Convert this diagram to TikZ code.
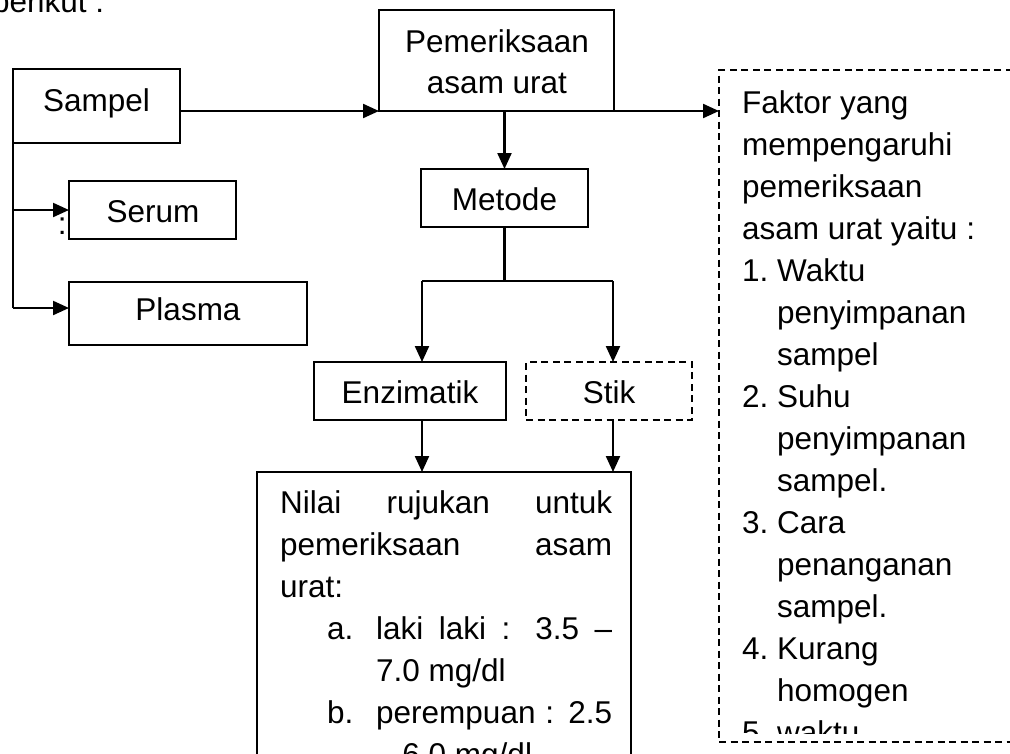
\documentclass[tikz,border=0pt]{standalone}
\usepackage{fontspec}
\setmainfont{Liberation Sans}
\usetikzlibrary{arrows.meta}
\begin{document}
\begin{tikzpicture}[x=1pt,y=-1pt,
  font=\fontsize{31.5}{42}\selectfont,
  box/.style={draw, line width=2.2pt, inner sep=0pt, outer sep=0pt},
  dbox/.style={draw, line width=1.6pt, dash pattern=on 7pt off 4.5pt, inner sep=0pt, outer sep=0pt},
  txt/.style={inner sep=0pt, anchor=base},
  txtw/.style={inner sep=0pt, anchor=base west},
  conn/.style={line width=2.2pt},
  arr/.style={line width=2.2pt, -{Triangle[length=16pt,width=14pt]}}]
\useasboundingbox (0,0) rectangle (1010,753);
\clip (0,0) rectangle (1010,753);

% top text (cut by page edge)
\node[txtw] (berikut) at (-8,12) {berikut :};

% boxes
\node[box, minimum width=167pt, minimum height=74pt] (sampel) at (96.5,106) {};
\node[box, minimum width=235pt, minimum height=101pt] (pem) at (496.5,60.5) {};
\node[box, minimum width=167pt, minimum height=58pt] (metode) at (504.5,198) {};
\node[box, minimum width=167pt, minimum height=58pt] (serum) at (152.5,210) {};
\node[box, minimum width=238pt, minimum height=63pt] (plasma) at (188,313.5) {};
\node[box, minimum width=192pt, minimum height=58pt] (enz) at (410,391) {};
\node[dbox, minimum width=166pt, minimum height=58pt] (stik) at (609,391) {};
\node[box, minimum width=374pt, minimum height=328pt] (nilai) at (444,636) {};
\node[dbox, minimum width=311pt, minimum height=672pt] (faktor) at (874.5,406) {};

% box texts
\node[txt] (tsampel) at (96.5,111) {Sampel};
\node[txt] (tpem1) at (497,52) {Pemeriksaan};
\node[txt] (tpem2) at (497,93) {asam urat};
\node[txt] (tmetode) at (504.5,210) {Metode};
\node[txt] (tserum) at (153,222) {Serum};
\node[txt] (tplasma) at (188,320) {Plasma};
\node[txt] (tenz) at (410,403) {Enzimatik};
\node[txt] (tstik) at (609,403) {Stik};
\node[txtw] (colon) at (57.6,234) {:};

% Nilai text
\node[txtw] (n1) at (280,513) {\makebox[332pt][s]{Nilai rujukan untuk}};
\node[txtw] (n2) at (280,555) {\makebox[332pt][s]{pemeriksaan asam}};
\node[txtw] (n3) at (280,597) {urat:};
\node[txtw] (n4a) at (327,639) {a.};
\node[txtw] (n4) at (376,639) {\makebox[236pt][s]{laki laki : 3.5 –}};
\node[txtw] (n5) at (376,681) {7.0 mg/dl};
\node[txtw] (n6a) at (327,723) {b.};
\node[txtw] (n6) at (376,723) {\makebox[236pt][s]{perempuan : 2.5}};
\node[txtw] (n7) at (376,765) {– 6.0 mg/dl};

% Faktor text (clipped above the bottom border)
\begin{scope}
\clip (719,70) rectangle (1010,733);
\node[txtw] (f0) at (742,113) {Faktor yang};
\node[txtw] (f1) at (742,155) {mempengaruhi};
\node[txtw] (f2) at (742,197) {pemeriksaan};
\node[txtw] (f3) at (742,239) {asam urat yaitu :};
\node[txtw] (f4a) at (742,281) {1.};
\node[txtw] (f4) at (777,281) {Waktu};
\node[txtw] (f5) at (777,323) {penyimpanan};
\node[txtw] (f6) at (777,365) {sampel};
\node[txtw] (f7a) at (742,407) {2.};
\node[txtw] (f7) at (777,407) {Suhu};
\node[txtw] (f8) at (777,449) {penyimpanan};
\node[txtw] (f9) at (777,491) {sampel.};
\node[txtw] (f10a) at (742,533) {3.};
\node[txtw] (f10) at (777,533) {Cara};
\node[txtw] (f11) at (777,575) {penanganan};
\node[txtw] (f12) at (777,617) {sampel.};
\node[txtw] (f13a) at (742,659) {4.};
\node[txtw] (f13) at (777,659) {Kurang};
\node[txtw] (f14) at (777,701) {homogen};
\node[txtw] (f15a) at (742,743) {5.};
\node[txtw] (f15) at (777,743) {waktu};
\end{scope}

% connectors
\draw[arr] (sampel.east |- pem.south west) -- (pem.south west);
\draw[arr] (pem.south east) -- (faktor.west |- pem.south east);
\draw[arr] (metode.north |- pem.south) -- (metode.north);

\coordinate (bl) at (422,281);
\coordinate (br) at (613,281);
\draw[conn] (metode.south) -- (metode.south |- bl);
\draw[conn] (bl) -- (br);
\draw[arr] (bl) -- (bl |- enz.north);
\draw[arr] (br) -- (br |- stik.north);
\draw[arr] (bl |- enz.south) -- (bl |- nilai.north);
\draw[arr] (br |- stik.south) -- (br |- nilai.north);

\coordinate (sp) at (13,308);
\draw[conn] (sampel.south west) -- (sp);
\draw[arr] (sampel.west |- serum.west) -- (serum.west);
\draw[arr] (sp) -- (plasma.west |- sp);
\end{tikzpicture}
\end{document}
